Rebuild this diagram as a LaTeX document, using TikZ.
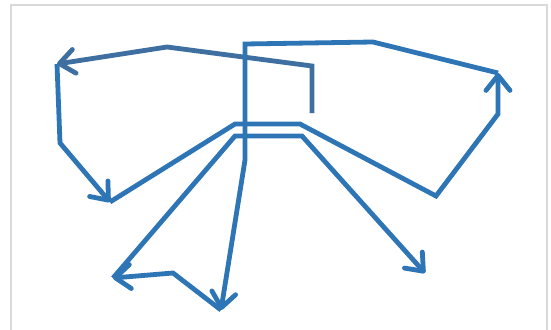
\documentclass[tikz,border=0pt]{standalone}
\usetikzlibrary{arrows.meta}
\definecolor{mainblue}{HTML}{2E75B6}
\definecolor{darkblue}{HTML}{3F6FA0}
\definecolor{framegray}{HTML}{D9D9D9}
\begin{document}
\begin{tikzpicture}[x=1pt,y=-1pt,
  line/.style={line width=4.8pt, mainblue, line join=miter, line cap=butt},
  arr/.style={line, -{Straight Barb[length=15pt,width=24pt,round]}}]
\useasboundingbox (0,0) rectangle (551,329);
\fill[white] (0,0) rectangle (551,329);
\draw[framegray, line width=2pt] (11,345) -- (11,5) -- (547,5) -- (547,345);
% named points
\coordinate (s1) at (312,113);
\coordinate (c1) at (312,66);
\coordinate (p1) at (167,47);
\coordinate (tl) at (57,64);
\coordinate (l2) at (60,143);
\coordinate (bl) at (110,202);
\coordinate (u1) at (235,124);
\coordinate (u2) at (300,124);
\coordinate (r1) at (436,196);
\coordinate (r2) at (498,114);
\coordinate (tr) at (498,73);
\coordinate (t1) at (373,42);
\coordinate (t2) at (245,44);
\coordinate (v1) at (245,160);
\coordinate (bm) at (221,310);
\coordinate (w1) at (235,136);
\coordinate (w2) at (302,136);
\coordinate (br) at (425,273);
\coordinate (k1) at (173,273);
\coordinate (kl) at (113,278);
% paths
\draw[arr, darkblue] (s1) -- (c1) -- (p1) -- (tl);
\draw[arr] (tl) -- (l2) -- (bl);
\draw[arr] (bl) -- (u1) -- (u2) -- (r1) -- (r2) -- (tr);
\draw[arr] (tr) -- (t1) -- (t2) -- (v1) -- (bm);
\draw[arr] (kl) -- (w1) -- (w2) -- (br);
\draw[arr] (bm) -- (k1) -- (kl);
\end{tikzpicture}
\end{document}
